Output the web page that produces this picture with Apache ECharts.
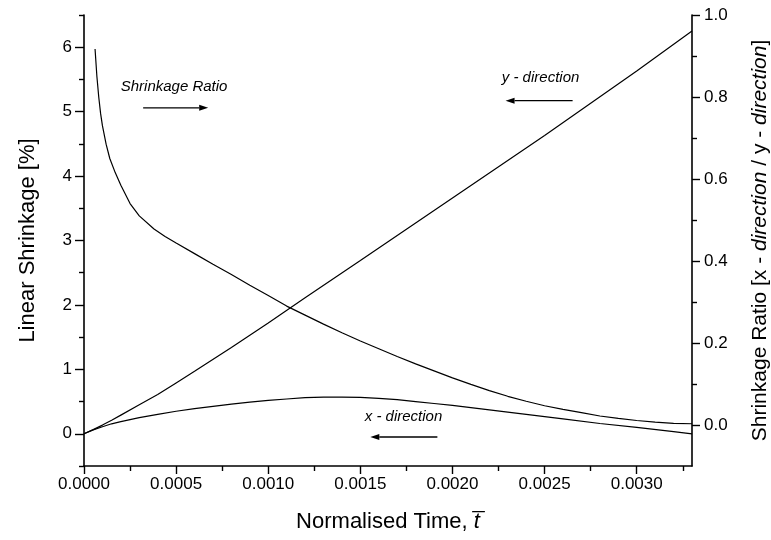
<!DOCTYPE html>
<html>
<head>
<meta charset="utf-8">
<script src="https://cdn.jsdelivr.net/npm/echarts@6/dist/echarts.min.js"></script>
<style>
  html, body { margin: 0; padding: 0; background: #fff; }
  #chart { width: 771px; height: 540px; }
</style>
</head>
<body>
<div id="chart"></div>
<script>
// Normalised time for each curve
const tY = [0, 0.00005, 0.0001, 0.00015, 0.0002, 0.0003, 0.0004, 0.0005, 0.0006, 0.0008, 0.001, 0.0012, 0.0015, 0.002, 0.0025, 0.003, 0.0033];
// Linear shrinkage in y-direction [%]
const yDir = [0, 0.065, 0.135, 0.21, 0.29, 0.45, 0.61, 0.79, 0.97, 1.34, 1.72, 2.11, 2.69, 3.66, 4.63, 5.63, 6.25];

const tX = [0, 0.00005, 0.0001, 0.00015, 0.0002, 0.00025, 0.0003, 0.0004, 0.0005, 0.0006, 0.0007, 0.0008, 0.0009, 0.001, 0.0011, 0.0012, 0.0013, 0.0014, 0.0015, 0.0016, 0.0017, 0.0018, 0.0019, 0.002, 0.0022, 0.0024, 0.0026, 0.0028, 0.003, 0.0032, 0.0033];
// Linear shrinkage in x-direction [%]
const xDir = [0, 0.06, 0.11, 0.155, 0.19, 0.22, 0.25, 0.30, 0.35, 0.39, 0.425, 0.46, 0.49, 0.52, 0.54, 0.56, 0.57, 0.57, 0.565, 0.55, 0.53, 0.50, 0.47, 0.44, 0.37, 0.30, 0.23, 0.16, 0.10, 0.035, 0.0];

const tR = [0.00006, 0.00007, 0.00008, 0.00009, 0.0001, 0.00012, 0.00014, 0.00017, 0.0002, 0.00025, 0.0003, 0.00038, 0.00044, 0.0005, 0.0006, 0.0007, 0.0008, 0.0009, 0.001, 0.0011, 0.0012, 0.0013, 0.0014, 0.0015, 0.0016, 0.0017, 0.0018, 0.0019, 0.002, 0.0021, 0.0022, 0.0023, 0.0024, 0.0025, 0.0026, 0.0027, 0.0028, 0.0029, 0.003, 0.0031, 0.0032, 0.0033];
// Shrinkage ratio (x-direction / y-direction)
const ratio = [0.917, 0.85, 0.80, 0.76, 0.73, 0.685, 0.65, 0.615, 0.585, 0.54, 0.51, 0.478, 0.46, 0.444, 0.418, 0.392, 0.367, 0.341, 0.316, 0.29, 0.268, 0.246, 0.225, 0.205, 0.186, 0.167, 0.149, 0.132, 0.115, 0.099, 0.084, 0.07, 0.058, 0.047, 0.038, 0.03, 0.022, 0.016, 0.011, 0.007, 0.004, 0.003];

// Tick positions
const xMajor = [0, 0.0005, 0.001, 0.0015, 0.002, 0.0025, 0.003];
const xMinor = [0.00025, 0.00075, 0.00125, 0.00175, 0.00225, 0.00275, 0.00325];
const leftMajor = [0, 1, 2, 3, 4, 5, 6];
const leftMinor = [-0.5, 0.5, 1.5, 2.5, 3.5, 4.5, 5.5, 6.5];
const rightMajor = [0, 0.2, 0.4, 0.6, 0.8, 1.0];
const rightMinor = [0.1, 0.3, 0.5, 0.7, 0.9];

const FONT = 'Liberation Sans, Arial, sans-serif';
const pairs = (xs, ys) => xs.map((x, i) => [x, ys[i]]);

const lineStyle = { color: '#000', width: 1.2 };
const axisLine = { show: true, onZero: false, lineStyle: { color: '#000', width: 1.6 } };
const hiddenLine = { show: false, onZero: false };
const italic = { fontStyle: 'italic', fontFamily: FONT, fontSize: 22, color: '#000' };

const chart = echarts.init(document.getElementById('chart'), null, { renderer: 'canvas' });

const option = {
  animation: false,
  backgroundColor: '#fff',
  grid: { left: 84, right: 79, top: 15, bottom: 74, containLabel: false, outerBoundsMode: 'none' },
  xAxis: [
    {
      type: 'value', min: 0, max: 0.0033, position: 'bottom',
      axisLine: axisLine,
      axisTick: { show: true, inside: false, length: 8, customValues: xMajor, lineStyle: { color: '#000', width: 1.4 } },
      axisLabel: { customValues: xMajor, formatter: v => v.toFixed(4), color: '#000', fontFamily: FONT, fontSize: 17, margin: 10 },
      splitLine: { show: false },
      name: 'Normalised Time, {it|t\u0305}',
      nameLocation: 'middle', nameGap: 45,
      nameTextStyle: { color: '#000', fontFamily: FONT, fontSize: 22, rich: { it: italic } }
    },
    {
      type: 'value', min: 0, max: 0.0033, position: 'bottom',
      axisLine: hiddenLine,
      axisTick: { show: true, length: 5, customValues: xMinor, lineStyle: { color: '#000', width: 1.4 } },
      axisLabel: { show: false },
      splitLine: { show: false }
    }
  ],
  yAxis: [
    {
      type: 'value', min: -0.5, max: 6.5, position: 'left',
      axisLine: axisLine,
      axisTick: { show: true, length: 9, customValues: leftMajor, lineStyle: { color: '#000', width: 1.4 } },
      axisLabel: { customValues: leftMajor, formatter: v => String(v), color: '#000', fontFamily: FONT, fontSize: 17, margin: 12 },
      splitLine: { show: false },
      name: 'Linear Shrinkage [%]',
      nameLocation: 'middle', nameGap: 45, nameRotate: 90,
      nameTextStyle: { color: '#000', fontFamily: FONT, fontSize: 22 }
    },
    {
      type: 'value', min: -0.1, max: 1.0, position: 'right',
      axisLine: axisLine,
      axisTick: { show: true, length: 8, customValues: rightMajor, lineStyle: { color: '#000', width: 1.4 } },
      axisLabel: { customValues: rightMajor, formatter: v => v.toFixed(1), color: '#000', fontFamily: FONT, fontSize: 17, margin: 12 },
      splitLine: { show: false },
      name: 'Shrinkage Ratio [x - {it|direction} / y - {it|direction}]',
      nameLocation: 'middle', nameGap: 58, nameRotate: 90,
      nameTextStyle: { color: '#000', fontFamily: FONT, fontSize: 21, rich: { it: Object.assign({}, italic, { fontSize: 21 }) } }
    },
    {
      type: 'value', min: -0.5, max: 6.5, position: 'left',
      axisLine: hiddenLine,
      axisTick: { show: true, length: 5, customValues: leftMinor, lineStyle: { color: '#000', width: 1.4 } },
      axisLabel: { show: false },
      splitLine: { show: false }
    },
    {
      type: 'value', min: -0.1, max: 1.0, position: 'right',
      axisLine: hiddenLine,
      axisTick: { show: true, length: 5, customValues: rightMinor, lineStyle: { color: '#000', width: 1.4 } },
      axisLabel: { show: false },
      splitLine: { show: false }
    }
  ],
  series: [
    {
      name: 'y - direction', type: 'line', xAxisIndex: 0, yAxisIndex: 0,
      data: pairs(tY, yDir), showSymbol: false, smooth: false, lineStyle: lineStyle
    },
    {
      name: 'x - direction', type: 'line', xAxisIndex: 0, yAxisIndex: 0,
      data: pairs(tX, xDir), showSymbol: false, smooth: false, lineStyle: lineStyle
    },
    {
      name: 'Shrinkage Ratio', type: 'line', xAxisIndex: 0, yAxisIndex: 1,
      data: pairs(tR, ratio), showSymbol: false, smooth: false, lineStyle: lineStyle
    }
  ]
};

chart.setOption(option);

// Curve annotations: italic caption with an arrow pointing to the axis the curve belongs to
const notes = [
  { text: 'Shrinkage Ratio', at: [0.000489, 5.39], from: [0.000321, 5.06], to: [0.000674, 5.06] },
  { text: 'y - direction', at: [0.002478, 5.52], from: [0.002652, 5.17], to: [0.002288, 5.17] },
  { text: 'x - direction', at: [0.001734, 0.265], from: [0.001918, -0.05], to: [0.001554, -0.05] }
];

const px = p => chart.convertToPixel({ xAxisIndex: 0, yAxisIndex: 0 }, p);
const elements = [];
notes.forEach(n => {
  const c = px(n.at), a = px(n.from), b = px(n.to);
  elements.push({
    type: 'text', x: c[0], y: c[1],
    style: { text: n.text, fill: '#000', font: 'italic 15px ' + FONT, align: 'center', verticalAlign: 'middle' }
  });
  const dir = Math.sign(b[0] - a[0]);
  const head = 9, half = 3;
  elements.push({
    type: 'line', shape: { x1: a[0], y1: a[1], x2: b[0] - dir * head, y2: b[1] },
    style: { stroke: '#000', lineWidth: 1.3 }
  });
  elements.push({
    type: 'polygon',
    shape: { points: [[b[0], b[1]], [b[0] - dir * head, b[1] - half], [b[0] - dir * head, b[1] + half]] },
    style: { fill: '#000' }
  });
});
chart.setOption({ graphic: elements });
</script>
</body>
</html>
